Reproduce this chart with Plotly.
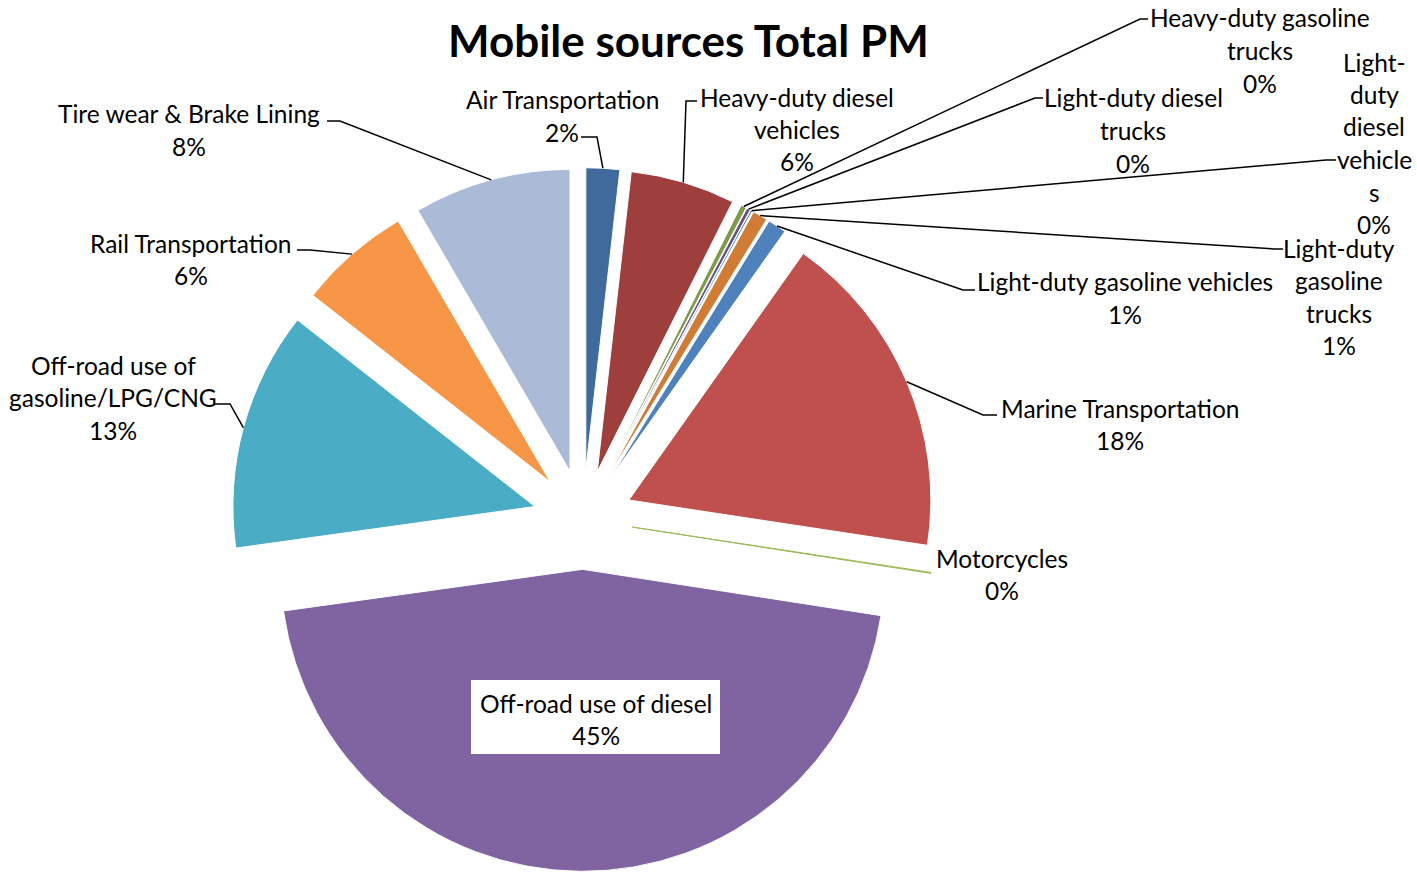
import math
import plotly.graph_objects as go

# Mobile-source PM emissions by category (percent of total)
categories = [
    "Air Transportation",
    "Heavy-duty diesel vehicles",
    "Heavy-duty gasoline trucks",
    "Light-duty diesel trucks",
    "Light-duty diesel vehicles",
    "Light-duty gasoline trucks",
    "Light-duty gasoline vehicles",
    "Marine Transportation",
    "Motorcycles",
    "Off-road use of diesel",
    "Off-road use of gasoline/LPG/CNG",
    "Rail Transportation",
    "Tire wear & Brake Lining",
]
values = [1.8, 5.6, 0.3, 0.2, 0.1, 0.8, 1.0, 17.6, 0.05, 45.35, 12.8, 6.0, 8.4]

colors = [
    "#416A9C", "#9E3F3D", "#7F9A48", "#674F84", "#3A8DA3", "#D07C36",
    "#4F81BD", "#C0504D", "#9BBB59", "#8064A2", "#4BACC6", "#F79646", "#AABAD7",
]

W, H = 1417, 876
FONT = "Lato"
PULL = 0.165
CX, CY, R = 583.0, 519.5, 302.0      # pie centre and radius in pixels
HALF = R * (1 + PULL)

total = sum(values)
pcts = [f"{v / total * 100:.0f}%" for v in values]

# label text lines per category (wrapped as in the chart) and placement
labels = {
    0: (["Air Transportation"], 562, 100),
    1: (["Heavy-duty diesel", "vehicles"], 797, 97),
    2: (["Heavy-duty gasoline", "trucks"], 1260, 18),
    3: (["Light-duty diesel", "trucks"], 1133, 98),
    4: (["Light-", "duty", "diesel", "vehicle", "s"], 1374, 62),
    5: (["Light-duty", "gasoline", "trucks"], 1339, 248),
    6: (["Light-duty gasoline vehicles"], 1125, 282),
    7: (["Marine Transportation"], 1120, 408),
    8: (["Motorcycles"], 1002, 558),
    9: (["Off-road use of diesel"], 596, 703),
    10: (["Off-road use of", "gasoline/LPG/CNG"], 113, 365),
    11: (["Rail Transportation"], 191, 243),
    12: (["Tire wear & Brake Lining"], 189, 114),
}
LINE_H = 32.5

# leader line start points near each label
leaders = {
    0: [(581, 137), (597, 137)],
    1: [(697, 101), (686, 101)],
    2: [(1148, 19), (1140, 19)],
    3: [(1043, 98), (1035, 98)],
    4: [(1336, 160), (1326, 160)],
    5: [(1283, 249), (1275, 249)],
    6: [(975, 290), (963, 290)],
    7: [(997, 415), (983, 415)],
    10: [(215, 404), (230, 404)],
    11: [(297, 250), (310, 250)],
    12: [(327, 121), (340, 121)],
}


def px(x):
    return x / W


def py(y):
    return 1 - y / H


fig = go.Figure(
    go.Pie(
        labels=categories,
        values=values,
        sort=False,
        direction="clockwise",
        rotation=0,
        pull=[PULL] * len(values),
        textinfo="none",
        hoverinfo="label+percent",
        marker=dict(
            colors=colors,
            line=dict(
                color=["#9BBB59" if c == "Motorcycles" else "white" for c in categories],
                width=1,
            ),
        ),
        domain=dict(
            x=[px(CX - HALF), px(CX + HALF)],
            y=[py(CY + HALF), py(CY - HALF)],
        ),
        showlegend=False,
    )
)

annotations = []
shapes = []

# white box behind the in-slice label
shapes.append(dict(
    type="rect", xref="paper", yref="paper",
    x0=px(471), x1=px(720), y0=py(754), y1=py(680),
    fillcolor="white", line=dict(width=0), layer="above",
))

cum = 0.0
for i, v in enumerate(values):
    mid = (cum + v / 2) / total * 2 * math.pi
    cum += v
    ax = CX + HALF * math.sin(mid)
    ay = CY - HALF * math.cos(mid)
    lines, lx, ly = labels[i]
    for k, t in enumerate(lines + [pcts[i]]):
        annotations.append(dict(
            x=px(lx), y=py(ly + k * LINE_H), xref="paper", yref="paper",
            text=t, showarrow=False, xanchor="center", yanchor="middle",
            font=dict(family=FONT, size=24.5, color="black"),
        ))
    if i in leaders:
        pts = leaders[i] + [(ax, ay)]
        path = "M " + " L ".join(f"{px(x):.5f},{py(y):.5f}" for x, y in pts)
        shapes.append(dict(
            type="path", xref="paper", yref="paper", path=path,
            line=dict(color="black", width=1.5), layer="above",
        ))

annotations.append(dict(
    x=px(688), y=py(40), xref="paper", yref="paper",
    text="<b>Mobile sources Total PM</b>", showarrow=False,
    xanchor="center", yanchor="middle",
    font=dict(family=FONT, size=44, color="black"),
))

fig.update_layout(
    width=W, height=H,
    margin=dict(l=0, r=0, t=0, b=0),
    paper_bgcolor="white", plot_bgcolor="white",
    annotations=annotations, shapes=shapes,
)

fig.write_html("out.html")
